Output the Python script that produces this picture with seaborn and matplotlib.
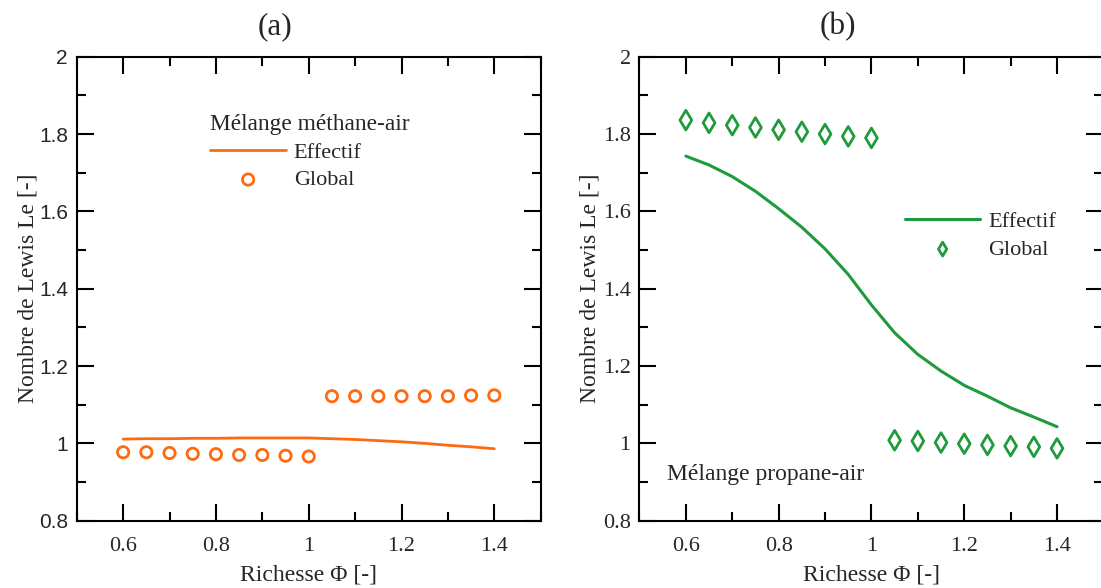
import numpy as np
import pandas as pd
import matplotlib
matplotlib.use("Agg")
import matplotlib.pyplot as plt
import seaborn as sns
from matplotlib.ticker import MultipleLocator
from matplotlib.font_manager import FontProperties
from matplotlib.collections import PathCollection

# richesse values
phi_line = [0.6, 0.65, 0.7, 0.75, 0.8, 0.85, 0.9, 0.95, 1.0, 1.05, 1.1, 1.15, 1.2, 1.25, 1.3, 1.35, 1.4]
phi_pts = [0.6, 0.65, 0.7, 0.75, 0.8, 0.85, 0.9, 0.95, 1.0, 1.05, 1.1, 1.15, 1.2, 1.25, 1.3, 1.35, 1.4]

# (a) methane-air
le_eff_ch4 = [1.011, 1.012, 1.012, 1.013, 1.013, 1.014, 1.014, 1.014, 1.014, 1.012, 1.010, 1.007,
              1.004, 1.000, 0.995, 0.991, 0.986]
le_glob_ch4 = [0.977, 0.977, 0.975, 0.973, 0.972, 0.970, 0.970, 0.968, 0.966,
               1.122, 1.122, 1.122, 1.122, 1.122, 1.122, 1.124, 1.124]

# (b) propane-air
le_eff_c3h8 = [1.743, 1.720, 1.690, 1.652, 1.607, 1.559, 1.503, 1.437, 1.358, 1.286, 1.230, 1.187,
               1.150, 1.122, 1.092, 1.068, 1.043]
le_glob_c3h8 = [1.836, 1.829, 1.823, 1.817, 1.811, 1.806, 1.800, 1.794, 1.790,
                1.008, 1.006, 1.002, 0.999, 0.996, 0.993, 0.991, 0.987]

xtick_vals = [0.6, 0.8, 1.0, 1.2, 1.4]
xtick_labels = ["0.6", "0.8", "1", "1.2", "1.4"]
ytick_vals = [0.8, 1.0, 1.2, 1.4, 1.6, 1.8, 2.0]
ytick_labels = ["0.8", "1", "1.2", "1.4", "1.6", "1.8", "2"]

orange = "#ff6a10"
green = "#1f9a3c"

sns.set_style("ticks")
plt.rcParams["font.family"] = ["Liberation Serif", "DejaVu Serif"]

fig = plt.figure(figsize=(11.01, 5.88), dpi=100)
ax1 = fig.add_axes([0.0697, 0.1145, 0.4214, 0.789])
ax2 = fig.add_axes([0.5808, 0.1145, 0.4214, 0.789])


def style_axes(ax, sans_y=False, ylabelpad=2):
    ax.set_xlim(0.5, 1.5)
    ax.set_ylim(0.8, 2.0)
    ax.set_xticks(xtick_vals)
    ax.set_yticks(ytick_vals)
    ax.xaxis.set_minor_locator(MultipleLocator(0.1))
    ax.yaxis.set_minor_locator(MultipleLocator(0.1))
    ax.tick_params(which="both", direction="in", top=True, right=True, width=1.5, color="black")
    ax.tick_params(which="major", length=12)
    ax.tick_params(which="minor", length=6.5)
    ax.tick_params(axis="x", pad=11.4)
    ax.tick_params(axis="y", pad=6.3)
    for s in ax.spines.values():
        s.set_linewidth(1.5)
        s.set_color("black")
        s.set_visible(True)
    ax.set_xticklabels(xtick_labels, fontproperties=FontProperties(family="Liberation Serif", size=16))
    if sans_y:
        ax.set_yticklabels(ytick_labels, fontproperties=FontProperties(family="Liberation Sans", size=15))
    else:
        ax.set_yticklabels(ytick_labels, fontproperties=FontProperties(family="Liberation Serif", size=16))
    ax.set_xlabel("Richesse Φ [-]", fontsize=17, labelpad=6.2)
    ax.set_ylabel("Nombre de Lewis Le [-]", fontsize=17, labelpad=ylabelpad)
    ax.grid(False)


def handles_of(ax):
    pts = [c for c in ax.collections if isinstance(c, PathCollection)][0]
    return [ax.lines[0], pts]


# (a)
sns.lineplot(x=phi_line, y=le_eff_ch4, color=orange, linewidth=2, ax=ax1, legend=False)
sns.scatterplot(x=phi_pts, y=le_glob_ch4, marker="o", s=66, facecolor="none",
                edgecolor=orange, linewidth=2, ax=ax1, legend=False)
style_axes(ax1, sans_y=True, ylabelpad=0.3)
ax1.set_title("(a)", fontsize=22.5, x=0.427, pad=16)
ax1.legend(handles_of(ax1), ["Effectif", "Global"],
           title="Mélange méthane-air", loc="upper left", bbox_to_anchor=(0.288, 0.8765),
           frameon=False, fontsize=16, title_fontsize=16.8, handlelength=3.4,
           handletextpad=0.35, labelspacing=0.32, borderpad=0, borderaxespad=0,
           alignment="left")

# (b)
sns.lineplot(x=phi_line, y=le_eff_c3h8, color=green, linewidth=2.2, ax=ax2, legend=False)
sns.scatterplot(x=phi_pts, y=le_glob_c3h8, marker="d", s=100, facecolor="none",
                edgecolor=green, linewidth=2, ax=ax2, legend=False)
style_axes(ax2, ylabelpad=2)
ax2.set_title("(b)", fontsize=22.5, x=0.427, pad=16)
ax2.legend(handles_of(ax2), ["Effectif", "Global"],
           loc="upper left", bbox_to_anchor=(0.572, 0.666), frameon=False, fontsize=16,
           handlelength=3.4, handletextpad=0.35, labelspacing=0.32, borderpad=0,
           borderaxespad=0, markerscale=0.7)
ax2.text(0.0586, 0.0985, "Mélange propane-air", transform=ax2.transAxes, fontsize=17,
         va="center", ha="left")

fig.savefig("out.png", dpi=100)
